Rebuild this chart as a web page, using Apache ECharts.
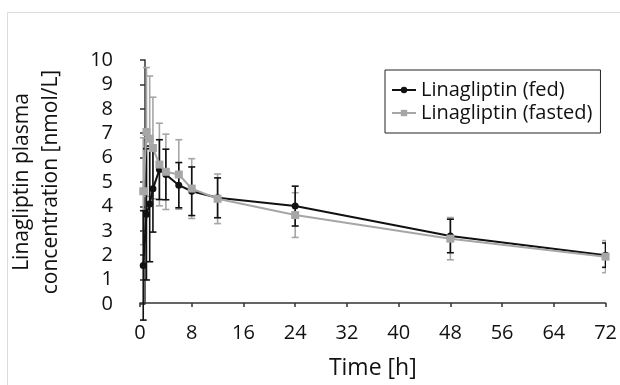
<!DOCTYPE html>
<html>
<head>
<meta charset="utf-8">
<script src="https://cdn.jsdelivr.net/npm/echarts@6/dist/echarts.min.js"></script>
<style>html,body{margin:0;padding:0;background:#fff}#c{width:620px;height:385px}</style>
</head>
<body>
<div id="c"></div>
<script>
const times = [0.5, 1, 1.5, 2, 3, 4, 6, 8, 12, 24, 48, 72];
const fedMean = [1.55, 3.65, 4.08, 4.70, 5.49, 5.29, 4.85, 4.60, 4.33, 3.99, 2.76, 1.97];
const fedSD = [2.25, 2.70, 2.38, 1.78, 1.23, 1.04, 0.93, 1.00, 0.82, 0.82, 0.69, 0.50];
const fastedMean = [4.60, 7.04, 6.76, 6.38, 5.70, 5.40, 5.29, 4.71, 4.29, 3.62, 2.65, 1.91];
const fastedSD = [2.20, 2.65, 2.58, 2.09, 1.70, 1.55, 1.43, 1.23, 1.02, 0.92, 0.87, 0.66];
const seriesNames = ['Linagliptin (fed)', 'Linagliptin (fasted)'];
const xTicks = [0, 8, 16, 24, 32, 40, 48, 56, 64, 72];

const FONT = '"Open Sans"';
const fedColor = '#111111';
const fastColor = '#a6a6a6';

function pts(m) { return times.map((t, i) => [t, m[i]]); }
function errs(m, s) { return times.map((t, i) => [t, m[i] - s[i], m[i] + s[i]]); }

function errRender(color) {
  return function (params, api) {
    const x = api.value(0);
    const lo = api.coord([x, api.value(1)]);
    const hi = api.coord([x, api.value(2)]);
    const w = 3.5;
    const st = { stroke: color, lineWidth: 1.6 };
    return {
      type: 'group',
      children: [
        { type: 'line', shape: { x1: lo[0], y1: lo[1], x2: hi[0], y2: hi[1] }, style: st },
        { type: 'line', shape: { x1: hi[0] - w, y1: hi[1], x2: hi[0] + w, y2: hi[1] }, style: st },
        { type: 'line', shape: { x1: lo[0] - w, y1: lo[1], x2: lo[0] + w, y2: lo[1] }, style: st }
      ]
    };
  };
}

const chart = echarts.init(document.getElementById('c'), null, { renderer: 'canvas' });
chart.setOption({
  animation: false,
  backgroundColor: '#fff',
  textStyle: { fontFamily: FONT },
  graphic: [
    { type: 'polyline', silent: true, z: -1,
      shape: { points: [[7.5, 385], [7.5, 12.5], [620, 12.5]] },
      style: { stroke: '#dcdcdc', lineWidth: 1, fill: null } }
  ],
  grid: [
    { left: 140, right: 13, top: 60, height: 262 },
    { left: 140, right: 13, top: 60, height: 244 }
  ],
  legend: {
    left: 385, top: 70,
    orient: 'vertical',
    data: seriesNames,
    borderColor: '#222', borderWidth: 1,
    padding: [10, 8, 10, 6],
    itemGap: 3,
    itemWidth: 24, itemHeight: 8,
    textStyle: { fontFamily: FONT, fontSize: 20, color: '#111', lineHeight: 20 }
  },
  xAxis: [
    {
      gridIndex: 0, type: 'value', min: 0, max: 72, interval: 8,
      axisLine: { show: true, lineStyle: { color: '#333', width: 1.5 } },
      axisTick: { show: true, length: 4, lineStyle: { color: '#333', width: 1.5 } },
      axisLabel: { fontSize: 20, color: '#111', margin: 2, fontFamily: FONT,
        formatter: v => xTicks.includes(v) ? String(v) : '' },
      splitLine: { show: false },
      name: 'Time [h]', nameLocation: 'middle', nameGap: 36,
      nameTextStyle: { fontSize: 23, color: '#111', fontFamily: FONT }
    },
    { gridIndex: 1, type: 'value', min: 0, max: 72, show: false }
  ],
  yAxis: [
    { gridIndex: 0, type: 'value', min: -0.738, max: 10, show: false },
    {
      gridIndex: 1, type: 'value', min: 0, max: 10, interval: 1, offset: 15,
      axisLine: { show: true, lineStyle: { color: '#333', width: 1.5 } },
      axisTick: { show: true, length: 5, lineStyle: { color: '#333', width: 1.5 } },
      axisLabel: { fontSize: 20, color: '#111', margin: 17, fontFamily: FONT },
      splitLine: { show: false },
      name: 'Linagliptin plasma\nconcentration [nmol/L]', nameLocation: 'middle', nameGap: 64,
      nameRotate: 90,
      nameTextStyle: { fontSize: 21, color: '#111', fontFamily: FONT, lineHeight: 29 }
    }
  ],
  series: [
    { type: 'custom', name: 'fastedErr', xAxisIndex: 0, yAxisIndex: 0, clip: true,
      renderItem: errRender(fastColor), data: errs(fastedMean, fastedSD), z: 2 },
    { type: 'custom', name: 'fedErr', xAxisIndex: 0, yAxisIndex: 0, clip: true,
      renderItem: errRender(fedColor), data: errs(fedMean, fedSD), z: 3 },
    { type: 'line', name: seriesNames[0], xAxisIndex: 0, yAxisIndex: 0, data: pts(fedMean),
      symbol: 'circle', symbolSize: 7, lineStyle: { color: fedColor, width: 2 },
      itemStyle: { color: fedColor }, z: 4 },
    { type: 'line', name: seriesNames[1], xAxisIndex: 0, yAxisIndex: 0, data: pts(fastedMean),
      symbol: 'rect', symbolSize: 8, lineStyle: { color: fastColor, width: 2 },
      itemStyle: { color: fastColor }, z: 5 }
  ]
});
</script>
</body>
</html>
